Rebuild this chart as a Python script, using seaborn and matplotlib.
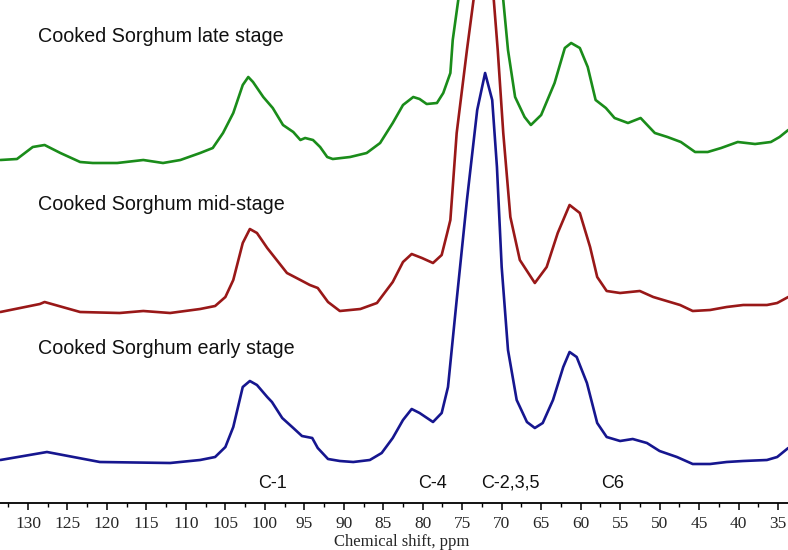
import matplotlib
matplotlib.use("Agg")
import matplotlib.pyplot as plt
import seaborn as sns
import pandas as pd
from matplotlib.ticker import MultipleLocator

# ---------------- data ----------------
early_ppm = [133.5, 127.6, 120.9, 112.0, 108.2, 106.3, 105.0, 104.0, 102.8, 101.9, 101.0, 99.7,
             99.1, 97.8, 96.4, 95.3, 94.0, 93.3, 92.0, 90.5, 88.8, 86.7, 85.2, 83.8, 82.5, 81.4,
             80.4, 78.7, 77.6, 76.8, 75.7, 74.4, 73.1, 72.1, 71.2, 70.6, 70.0, 69.2, 68.1, 66.8,
             65.8, 64.8, 63.5, 62.2, 61.4, 60.5, 59.2, 57.9, 56.7, 55.0, 53.4, 51.6, 50.0, 47.8,
             45.8, 43.6, 41.5, 39.4, 36.4, 35.1, 33.7]
early_int = [0, 8, -2, -3, 0, 3, 13, 33, 73, 79, 75, 63,
             58, 42, 32, 24, 22, 12, 1, -1, -2, 0, 7, 22, 40, 51,
             47, 38, 47, 73, 160, 260, 350, 387, 360, 293, 193, 110, 60, 38,
             32, 37, 60, 93, 108, 103, 77, 37, 23, 19, 21, 17, 9, 3,
             -4, -4, -2, -1, 0, 3, 12]

mid_ppm = [133.5, 128.5, 127.9, 123.4, 118.4, 115.4, 112.0, 108.2, 106.3, 105.0, 104.0, 102.8,
           101.9, 101.0, 99.7, 98.5, 97.2, 95.5, 94.3, 93.3, 92.0, 90.5, 87.9, 85.8, 83.8, 82.5,
           81.4, 80.1, 78.7, 77.6, 76.9, 76.5, 75.7, 74.4, 73.4, 72.8, 72.1, 71.5, 71.1, 70.5,
           69.8, 68.9, 67.7, 65.8, 64.3, 62.9, 61.4, 60.1, 58.8, 57.9, 56.7, 55.0, 52.5, 50.8,
           49.1, 47.4, 45.8, 43.6, 41.5, 39.4, 36.4, 35.1, 33.7]
mid_int = [0, 8, 10, 0, -1, 1, -1, 3, 6, 15, 32, 69,
           83, 79, 64, 52, 39, 32, 27, 24, 10, 1, 3, 9, 30, 50,
           58, 54, 49, 57, 79, 92, 179, 262, 322, 382, 407, 382, 322, 262,
           179, 95, 52, 29, 45, 79, 107, 99, 65, 35, 21, 19, 21, 15,
           11, 7, 1, 2, 5, 7, 7, 9, 15]

late_ppm = [133.5, 131.4, 129.4, 127.9, 125.9, 123.4, 121.8, 118.7, 115.4, 112.9, 110.7, 108.2,
            106.6, 105.3, 104.0, 102.8, 102.1, 101.5, 100.2, 99.0, 97.7, 96.4, 95.5, 94.9, 93.9,
            93.0, 92.1, 91.4, 89.2, 87.1, 85.4, 83.8, 82.5, 81.2, 80.4, 79.5, 78.2, 77.4, 76.5,
            76.2, 75.5, 75.0, 74.0, 72.8, 71.5, 70.5, 69.8, 69.2, 68.3, 67.1, 66.3, 65.0, 63.3,
            62.0, 61.2, 60.1, 59.1, 58.1, 56.8, 55.7, 54.0, 52.4, 50.6, 49.0, 47.3, 45.5, 43.9,
            42.2, 40.1, 37.9, 35.9, 34.8, 33.7]
late_int = [0, 1, 13, 15, 7, -2, -3, -3, 0, -3, 0, 7,
            12, 27, 47, 75, 83, 78, 63, 52, 35, 28, 20, 22, 20,
            13, 3, 1, 3, 7, 17, 37, 55, 63, 61, 56, 57, 67, 87,
            120, 160, 220, 340, 400, 340, 210, 160, 110, 63, 43, 35, 45, 77,
            112, 117, 112, 93, 60, 52, 42, 37, 42, 27, 23, 18, 8, 8,
            12, 18, 16, 18, 23, 30]

series_names = ["Cooked Sorghum early stage", "Cooked Sorghum mid-stage", "Cooked Sorghum late stage"]
peak_labels = ["C-1", "C-4", "C-2,3,5", "C6"]
peak_ppm = [99.0, 78.8, 68.9, 56.0]
tick_values = list(range(130, 34, -5))

# ---------------- styling ----------------
offsets = [43, 191, 343]
colors = ["#16168f", "#991818", "#1a8c1a"]
label_y = [155, 299, 466]

sns.set_style("white")
plt.rcParams["font.family"] = ["Liberation Sans", "DejaVu Sans"]

fig = plt.figure(figsize=(7.88, 5.5), dpi=100)
ax = fig.add_axes([0, 47 / 550, 1, 503 / 550])

traces = [(early_ppm, early_int), (mid_ppm, mid_int), (late_ppm, late_int)]
for (ppm, inten), off, col, name, ly in zip(traces, offsets, colors, series_names, label_y):
    df = pd.DataFrame({"ppm": ppm, "intensity": [v + off for v in inten]})
    sns.lineplot(data=df, x="ppm", y="intensity", ax=ax, color=col, linewidth=1.9,
                 estimator=None, sort=False, legend=False)
    ax.text(128.7, ly, name, fontsize=14.2, color="#111111", va="center", ha="left",
            family=["Liberation Sans", "DejaVu Sans"])

for lab, p in zip(peak_labels, peak_ppm):
    ax.text(p, 20, lab, fontsize=13, color="#111111", va="center", ha="center",
            family=["Liberation Sans", "DejaVu Sans"])

ax.set_xlim(133.55, 33.73)
ax.set_ylim(0, 503)
ax.set_yticks([])
ax.set_ylabel("")
ax.xaxis.set_major_locator(MultipleLocator(5))
ax.xaxis.set_minor_locator(MultipleLocator(2.5))
ax.set_xticks(tick_values)
ax.set_xticklabels([str(t) for t in tick_values], family=["Liberation Serif", "DejaVu Serif"],
                   fontsize=12.5)
ax.tick_params(axis="x", which="major", direction="out", length=5, width=1.1, color="black",
               pad=4, bottom=True)
ax.tick_params(axis="x", which="minor", direction="out", length=3, width=1.0, color="black",
               bottom=True)
ax.set_xlabel("Chemical shift, ppm", family=["Liberation Serif", "DejaVu Serif"], fontsize=12,
              labelpad=1)
ax.xaxis.set_label_coords(0.51, -0.061)

for s in ["top", "right", "left"]:
    ax.spines[s].set_visible(False)
ax.spines["bottom"].set_linewidth(1.3)
ax.spines["bottom"].set_color("black")
ax.patch.set_alpha(0)

fig.savefig("out.png", dpi=100)
